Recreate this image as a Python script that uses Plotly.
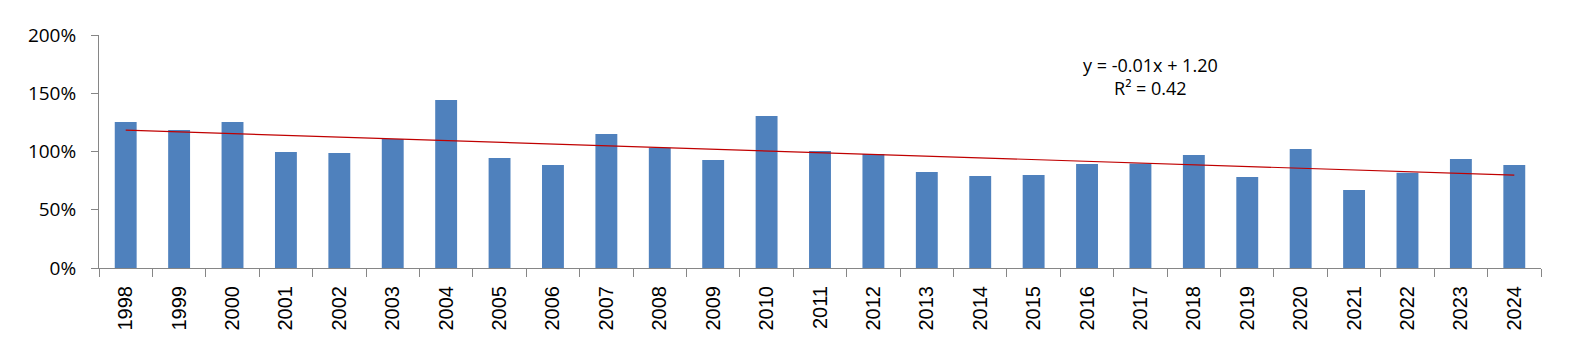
import numpy as np
import plotly.graph_objects as go

years = [str(y) for y in range(1998, 2025)]
values = [125.3, 118.5, 125.3, 99.6, 98.7, 110.7, 144.2, 94.4, 88.4, 115.0,
          103.3, 92.7, 130.5, 100.4, 97.9, 82.4, 79.0, 79.8, 89.3, 89.8,
          97.0, 78.1, 102.1, 67.0, 81.8, 93.6, 88.4]
y_ticks = [0, 0.5, 1.0, 1.5, 2.0]
y_tick_labels = ["0%", "50%", "100%", "150%", "200%"]
trend_label = "y = -0.01x + 1.20<br>R² = 0.42"

vals = np.array(values) / 100.0
xi = np.arange(1, len(vals) + 1)
slope, intercept = np.polyfit(xi, vals, 1)
fit = slope * xi + intercept

fig = go.Figure()
fig.add_trace(go.Bar(x=years, y=vals, marker=dict(color="#4F81BD", line=dict(width=0)),
                     width=0.41, showlegend=False))
fig.add_trace(go.Scatter(x=years, y=fit, mode="lines",
                         line=dict(color="#C00000", width=1.2), showlegend=False))

fig.add_annotation(x=0.7295, y=0.822, xref="paper", yref="paper", text=trend_label,
                   xanchor="center", yanchor="middle",
                   showarrow=False, align="center",
                   font=dict(family="Open Sans", size=18, color="#000000"))

fig.update_layout(
    width=1582, height=356,
    margin=dict(l=99, r=41, t=35, b=88),
    paper_bgcolor="white", plot_bgcolor="white",
    bargap=0.59,
)
fig.update_xaxes(type="category", tickangle=-90, showgrid=False, showline=True,
                 linecolor="#868686", linewidth=1, ticks="outside", tickson="boundaries",
                 ticklen=8, tickcolor="#868686", ticklabelstandoff=9,
                 tickfont=dict(family="Liberation Sans", size=20, color="#000000"))
fig.update_yaxes(range=[0, 2], tickvals=y_ticks, ticktext=y_tick_labels, showgrid=False,
                 zeroline=False, showline=True, linecolor="#868686", linewidth=1,
                 ticks="outside", ticklen=7, tickcolor="#868686", ticklabelstandoff=11,
                 tickfont=dict(family="Open Sans", size=19, color="#000000"))

fig.write_html("out.html")
